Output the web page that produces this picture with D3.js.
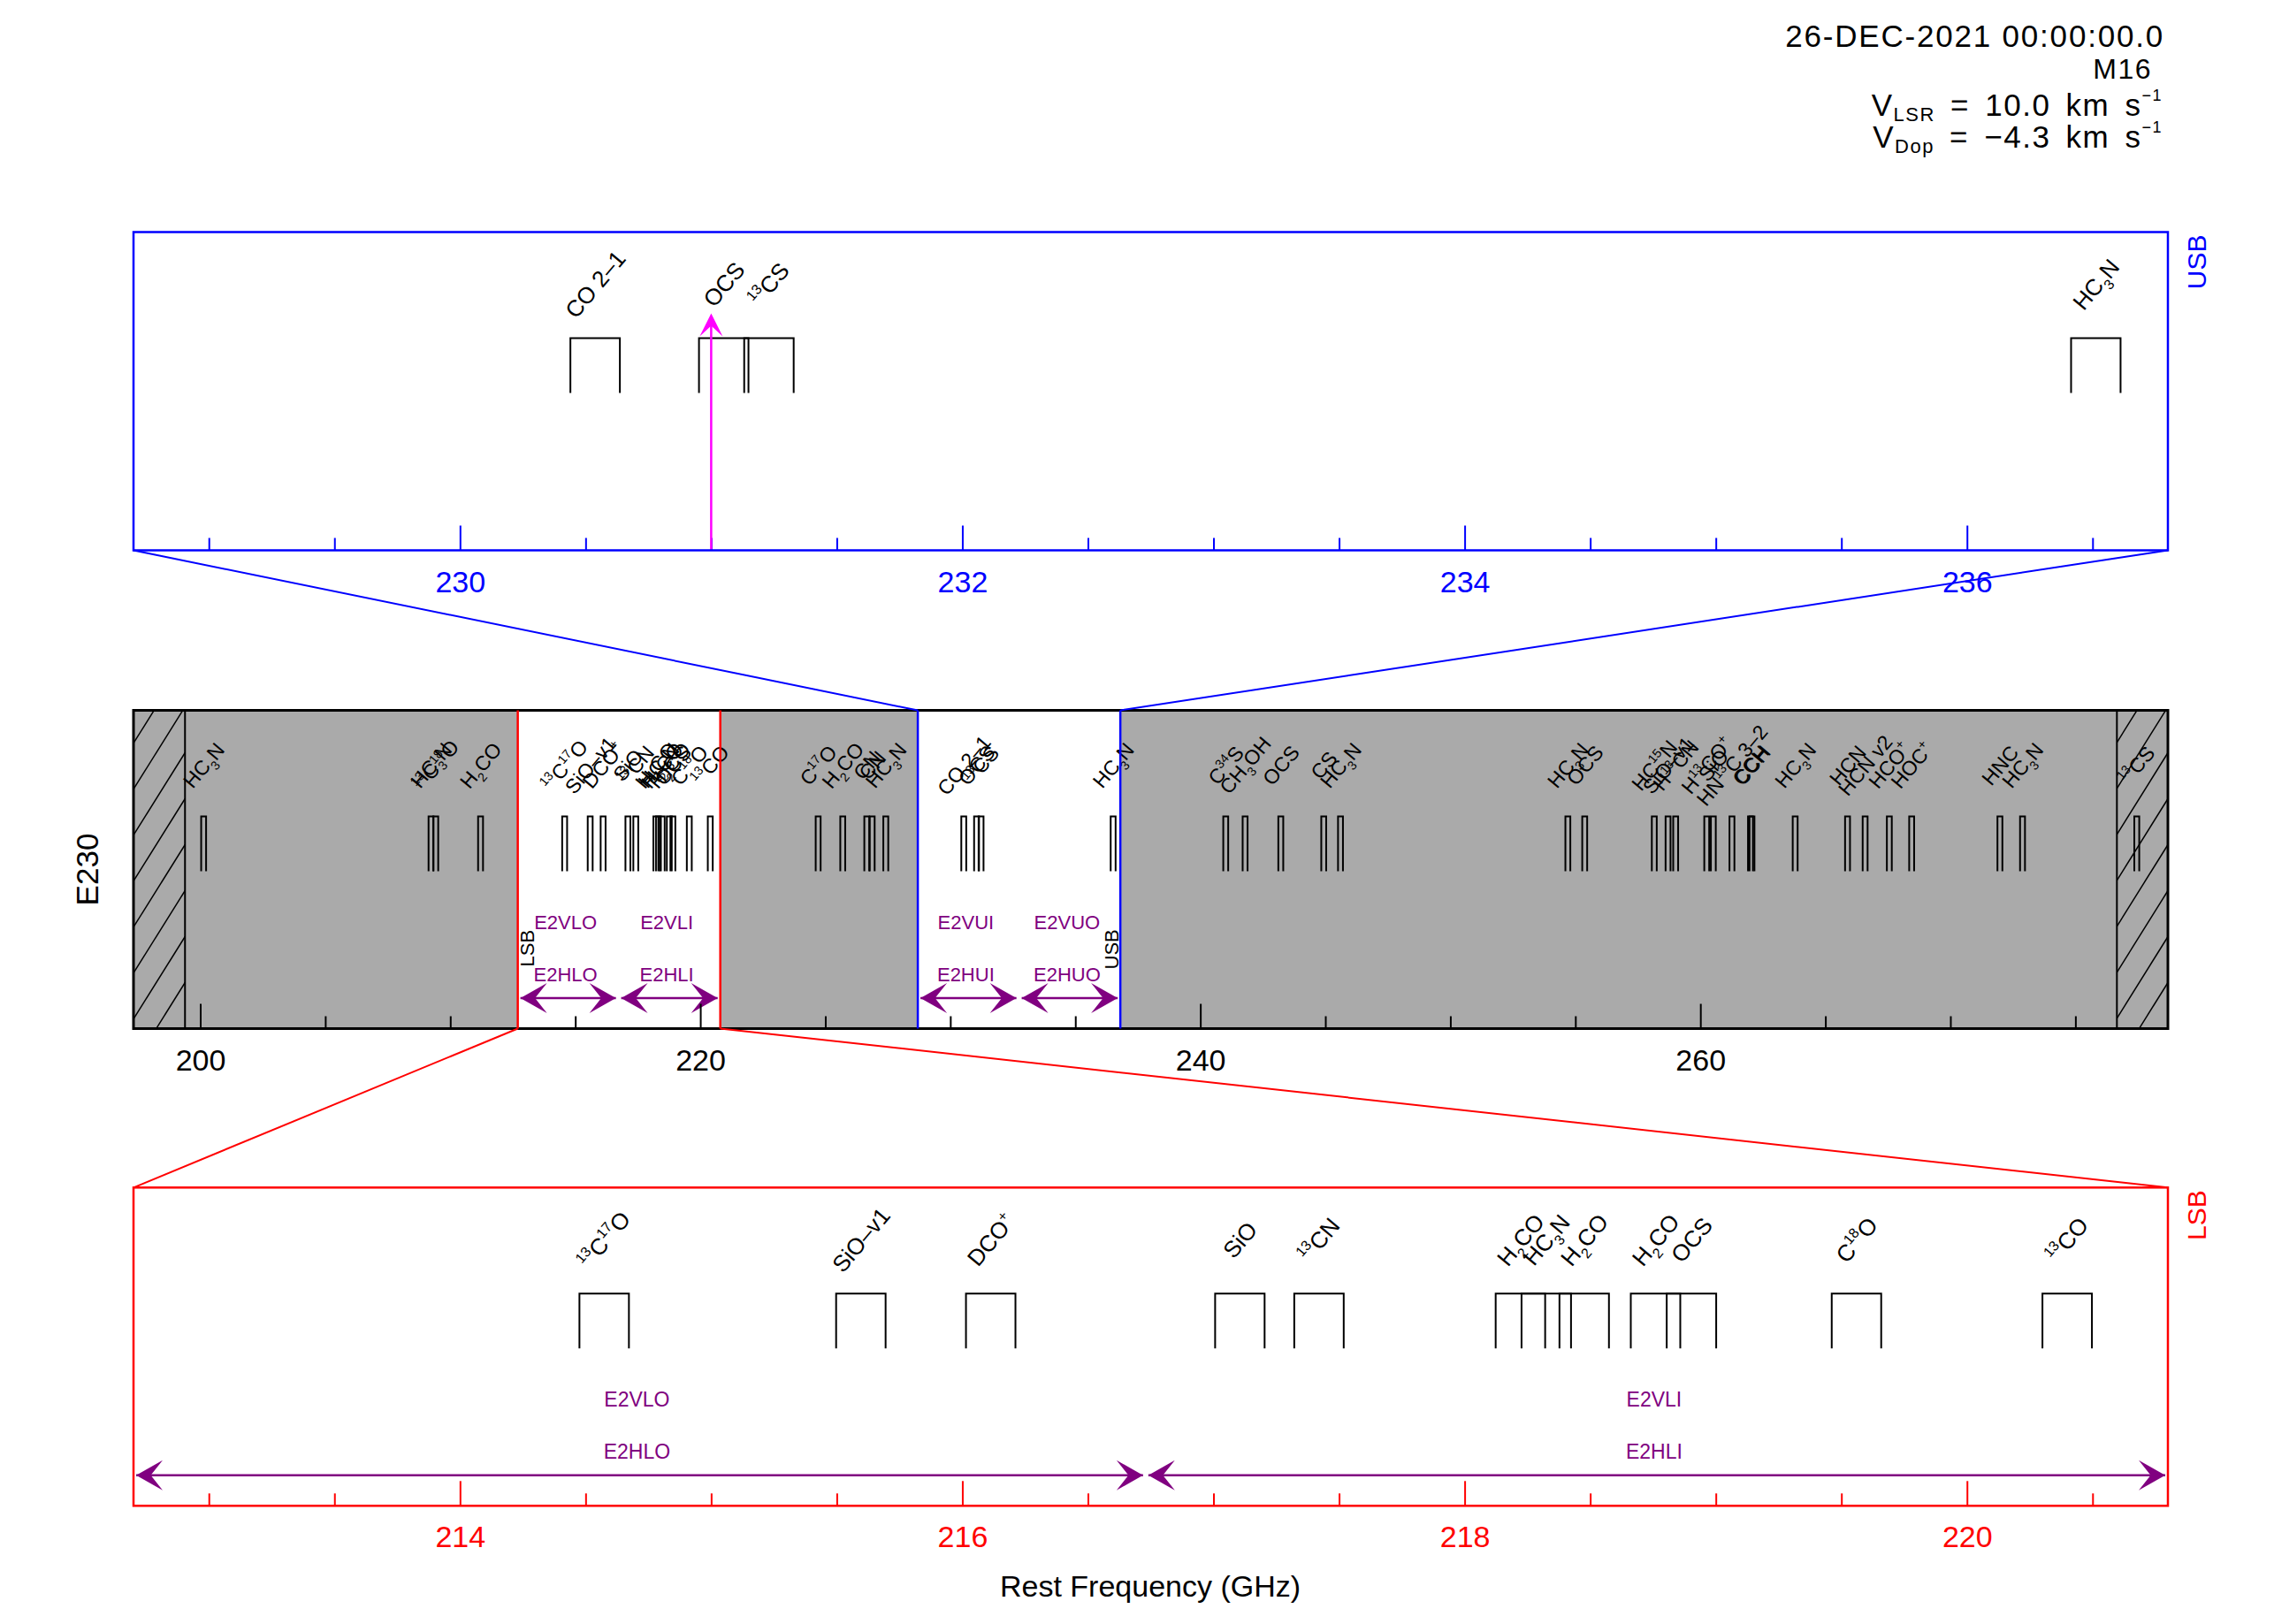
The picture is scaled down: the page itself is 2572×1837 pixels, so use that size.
<!DOCTYPE html>
<html><head><meta charset="utf-8">
<script src="https://cdn.jsdelivr.net/npm/d3@7"></script>
<style>html,body{margin:0;padding:0;background:#fff;} svg{display:block;}</style>
</head><body>
<script>
// ---------------- data ----------------
const lineFreqs = [200.135, 209.230, 209.419, 211.211, 214.574, 215.596, 216.113, 217.105, 217.420,
  218.222, 218.325, 218.476, 218.760, 218.903, 219.560, 220.399, 224.714, 225.698, 226.659, 226.875,
  227.419, 230.538, 231.050, 231.230, 236.513, 241.016, 241.791, 243.218, 244.936, 245.606, 254.700,
  255.374, 258.157, 258.707, 259.012, 260.255, 260.518, 261.263, 262.004, 262.064, 263.792, 265.886,
  266.590, 267.558, 268.451, 271.981, 272.885, 277.455];
const lineLabels = ["HC_{3}N", "HC_{3}N", "^{13}C^{18}O", "H_{2}CO", "^{13}C^{17}O", "SiO\u2013v1", "DCO^{+}", "SiO", "^{13}CN",
  "H_{2}CO", "HC_{3}N", "H_{2}CO", "H_{2}CO", "OCS", "C^{18}O", "^{13}CO", "C^{17}O", "H_{2}CO", "CN", "CN",
  "HC_{3}N", "CO 2\u20131", "OCS", "^{13}CS", "HC_{3}N", "C^{34}S", "CH_{3}OH", "OCS", "CS", "HC_{3}N", "HC_{3}N",
  "OCS", "HC^{15}N", "SiO\u2013v1", "H^{13}CN", "H^{13}CO^{+}", "SiO", "HN^{13}C 3\u20132", "CCH", "CCH", "HC_{3}N", "HCN",
  "HCN v2", "HCO^{+}", "HOC^{+}", "HNC", "HC_{3}N", "^{13}CS"];
const lineWidthGHz = 0.197;

const usbBand = [228.70, 236.80];
const lsbBand = [212.70, 220.80];
const overviewRange = [197.33, 278.70];
const hatchBands = [[197.33, 199.39], [276.66, 278.70]];
const tuningFreq = 231.0;

const windowVNames = ["E2VLO", "E2VLI", "E2VUI", "E2VUO"];
const windowHNames = ["E2HLO", "E2HLI", "E2HUI", "E2HUO"];
const windowRanges = [[212.70, 216.73], [216.73, 220.80], [228.70, 232.75], [232.75, 236.80]];

const topMajorTicks = [230, 232, 234, 236];
const topMinorTicks = [229, 229.5, 230.5, 231, 231.5, 232.5, 233, 233.5, 234.5, 235, 235.5, 236.5];
const midMajorTicks = [200, 220, 240, 260];
const midMinorTicks = [205, 210, 215, 225, 230, 235, 245, 250, 255, 265, 270, 275];
const botMajorTicks = [214, 216, 218, 220];
const botMinorTicks = [213, 213.5, 214.5, 215, 215.5, 216.5, 217, 217.5, 218.5, 219, 219.5, 220.5];

const headerDate = "26-DEC-2021 00:00:00.0";
const sourceName = "M16";
const vlsrText = "10.0";
const vdopText = "\u22124.3";

// ---------------- layout ----------------
const W = 2572, H = 1837;
const PX0 = 151, PX1 = 2452, PH = 360;
const topTop = 262.5, midTop = 803.5, botTop = 1343.3;
const FONT = '"Liberation Sans", Arial, sans-serif';
const BLUE = "#0000ff", RED = "#ff0000", PURPLE = "#800080", MAG = "#ff00ff", GRAY = "#aaaaaa";

const svg = d3.select("body").append("svg").attr("width", W).attr("height", H)
  .attr("font-family", FONT);
svg.append("rect").attr("width", W).attr("height", H).attr("fill", "#fff");

const xTop = d3.scaleLinear().domain(usbBand).range([PX0, PX1]);
const xMid = d3.scaleLinear().domain(overviewRange).range([PX0, PX1]);
const xBot = d3.scaleLinear().domain(lsbBand).range([PX0, PX1]);

function rich(sel, markup, fs) {
  const parts = markup.split(/(\^\{[^}]*\}|_\{[^}]*\})/);
  let cur = 0;
  parts.forEach(p => {
    let type = "n", t = p;
    if (p.startsWith("^{")) { type = "sup"; t = p.slice(2, -1); }
    else if (p.startsWith("_{")) { type = "sub"; t = p.slice(2, -1); }
    if (!t) return;
    const target = type === "sup" ? -0.42 * fs : type === "sub" ? 0.3 * fs : 0;
    sel.append("tspan").attr("dy", (target - cur).toFixed(2))
      .attr("font-size", type === "n" ? fs : fs * 0.62).text(t);
    cur = target;
  });
}

function drawLines(g, x, top, fs, labelDy) {
  const dom = x.domain();
  const data = lineFreqs.map((f, i) => ({ f, label: lineLabels[i] }))
    .filter(d => d.f >= dom[0] && d.f <= dom[1]);
  g.selectAll(null).data(data).enter().append("path")
    .attr("d", d => `M${x(d.f - lineWidthGHz / 2)},${top + 182}V${top + 120}H${x(d.f + lineWidthGHz / 2)}V${top + 182}`)
    .attr("fill", "none").attr("stroke", "#000").attr("stroke-width", 2);
  data.forEach(d => {
    const t = g.append("g").attr("transform", `translate(${x(d.f)},${top + labelDy}) rotate(-50)`)
      .append("text").attr("text-anchor", "middle").attr("y", 0.36 * fs)
      .attr("font-size", fs).attr("fill", "#000");
    rich(t, d.label, fs);
  });
}

function drawAxis(g, x, top, color, majors, minors) {
  const gy = top + PH;
  const a1 = g.append("g").attr("transform", `translate(0,${gy})`)
    .call(d3.axisBottom(x).tickValues(minors).tickSizeInner(-14).tickSizeOuter(0).tickFormat(""));
  const a2 = g.append("g").attr("transform", `translate(0,${gy})`)
    .call(d3.axisBottom(x).tickValues(majors).tickSizeInner(-28).tickSizeOuter(0).tickPadding(23).tickFormat(d3.format("d")));
  [a1, a2].forEach(a => {
    a.select(".domain").remove();
    a.attr("font-family", FONT).attr("font-size", 34);
    a.selectAll("line").attr("stroke", color).attr("stroke-width", 2);
    a.selectAll("text").attr("fill", color);
  });
}

function arrowHead(g, xt, y, dir, color, L, Wd) {
  const b = xt - dir * L, n = xt - dir * 0.55 * L;
  g.append("path").attr("d", `M${xt},${y}L${b},${y - Wd}L${n},${y}L${b},${y + Wd}Z`).attr("fill", color);
}
function dblArrow(g, xa, xb, y, color) {
  g.append("line").attr("x1", xa).attr("x2", xb).attr("y1", y).attr("y2", y)
    .attr("stroke", color).attr("stroke-width", 2.5);
  arrowHead(g, xa, y, -1, color, 30, 17);
  arrowHead(g, xb, y, 1, color, 30, 17);
}

function windows(g, x, top, idx, fs) {
  idx.forEach(i => {
    const r = windowRanges[i];
    const cx = x((r[0] + r[1]) / 2) - 3;
    g.append("text").attr("x", cx).attr("y", top + 247.5).attr("text-anchor", "middle")
      .attr("font-size", fs).attr("fill", PURPLE).text(windowVNames[i]);
    g.append("text").attr("x", cx).attr("y", top + 306.5).attr("text-anchor", "middle")
      .attr("font-size", fs).attr("fill", PURPLE).text(windowHNames[i]);
    dblArrow(g, x(r[0]) + 3, x(r[1]) - 3, top + 325.5, PURPLE);
  });
}

// ---------------- header ----------------
svg.append("text").attr("x", 2448).attr("y", 53).attr("text-anchor", "end").attr("font-size", 35)
  .attr("letter-spacing", 1.8).text(headerDate);
svg.append("text").attr("x", 2434).attr("y", 89).attr("text-anchor", "end").attr("font-size", 32)
  .attr("letter-spacing", 1.5).text(sourceName);
function velLine(y, sub, val) {
  const t = svg.append("text").attr("x", 2446).attr("y", y).attr("text-anchor", "end").attr("font-size", 35)
    .attr("letter-spacing", 1.5).attr("word-spacing", 6);
  t.append("tspan").text("V");
  t.append("tspan").attr("font-size", 22).attr("dy", 6).text(sub);
  t.append("tspan").attr("dy", -6).text(" = " + val + " km s");
  t.append("tspan").attr("font-size", 18).attr("dy", -17).text("\u22121");
}
velLine(131, "LSR", vlsrText);
velLine(166.7, "Dop", vdopText);

// ---------------- top (USB) panel ----------------
const gTop = svg.append("g");
drawAxis(gTop, xTop, topTop, BLUE, topMajorTicks, topMinorTicks);
drawLines(gTop, xTop, topTop, 26, 59);
{
  const xa = xTop(tuningFreq);
  gTop.append("line").attr("x1", xa).attr("x2", xa).attr("y1", topTop + PH).attr("y2", topTop + 96)
    .attr("stroke", MAG).attr("stroke-width", 2.5);
  gTop.append("path").attr("d", `M${xa},${topTop + 92}L${xa - 13},${topTop + 118}L${xa},${topTop + 106}L${xa + 13},${topTop + 118}Z`)
    .attr("fill", MAG);
}
gTop.append("rect").attr("x", PX0).attr("y", topTop).attr("width", PX1 - PX0).attr("height", PH)
  .attr("fill", "none").attr("stroke", BLUE).attr("stroke-width", 2.5);
gTop.append("text").attr("transform", `translate(2495,${topTop + 3}) rotate(-90)`).attr("text-anchor", "end")
  .attr("font-size", 30).attr("fill", BLUE).text("USB");

// ---------------- middle (overview) panel ----------------
const gMid = svg.append("g");
gMid.append("rect").attr("x", PX0).attr("y", midTop).attr("width", PX1 - PX0).attr("height", PH).attr("fill", GRAY);
[lsbBand, usbBand].forEach(b => {
  gMid.append("rect").attr("x", xMid(b[0])).attr("y", midTop).attr("width", xMid(b[1]) - xMid(b[0]))
    .attr("height", PH).attr("fill", "#fff");
});
const defs = svg.append("defs");
hatchBands.forEach((b, i) => {
  const xa = xMid(b[0]), xb = xMid(b[1]);
  defs.append("clipPath").attr("id", "hc" + i).append("rect")
    .attr("x", xa).attr("y", midTop).attr("width", xb - xa).attr("height", PH);
  const hg = gMid.append("g").attr("clip-path", `url(#hc${i})`);
  const rise = (xb - xa) * 1.6;
  d3.range(-2, 12).forEach(k => {
    const y0 = midTop + PH + rise - k * 52;
    hg.append("line").attr("x1", xa).attr("y1", y0).attr("x2", xb).attr("y2", y0 - rise)
      .attr("stroke", "#000").attr("stroke-width", 1.5);
  });
  const xe = i === 0 ? xb : xa;
  gMid.append("line").attr("x1", xe).attr("x2", xe).attr("y1", midTop).attr("y2", midTop + PH)
    .attr("stroke", "#000").attr("stroke-width", 2);
});
drawLines(gMid, xMid, midTop, 23, 62);
windows(gMid, xMid, midTop, [0, 1, 2, 3], 22);
drawAxis(gMid, xMid, midTop, "#000", midMajorTicks, midMinorTicks);
gMid.append("rect").attr("x", PX0).attr("y", midTop).attr("width", PX1 - PX0).attr("height", PH)
  .attr("fill", "none").attr("stroke", "#000").attr("stroke-width", 3);
[[lsbBand, RED], [usbBand, BLUE]].forEach(([b, c]) => {
  b.forEach(f => gMid.append("line").attr("x1", xMid(f)).attr("x2", xMid(f))
    .attr("y1", midTop).attr("y2", midTop + PH).attr("stroke", c).attr("stroke-width", 2.5));
});
gMid.append("text").attr("transform", `translate(${xMid(lsbBand[0]) + 18},${midTop + 290}) rotate(-90)`)
  .attr("font-size", 22).attr("fill", "#000").text("LSB");
gMid.append("text").attr("transform", `translate(${xMid(usbBand[1]) - 2},${midTop + 293}) rotate(-90)`)
  .attr("font-size", 22).attr("fill", "#000").text("USB");
svg.append("text").attr("transform", `translate(111,${midTop + PH / 2}) rotate(-90)`).attr("text-anchor", "middle")
  .attr("font-size", 35).text("E230");

// ---------------- bottom (LSB) panel ----------------
const gBot = svg.append("g");
drawAxis(gBot, xBot, botTop, RED, botMajorTicks, botMinorTicks);
drawLines(gBot, xBot, botTop, 26, 59);
windows(gBot, xBot, botTop, [0, 1], 23);
gBot.append("rect").attr("x", PX0).attr("y", botTop).attr("width", PX1 - PX0).attr("height", PH)
  .attr("fill", "none").attr("stroke", RED).attr("stroke-width", 2.5);
gBot.append("text").attr("transform", `translate(2495,${botTop + 3}) rotate(-90)`).attr("text-anchor", "end")
  .attr("font-size", 30).attr("fill", RED).text("LSB");
svg.append("text").attr("x", 1301).attr("y", 1806).attr("text-anchor", "middle").attr("font-size", 34)
  .text("Rest Frequency (GHz)");

// ---------------- zoom connectors ----------------
const conn = svg.append("g").attr("stroke-width", 2);
conn.append("line").attr("x1", PX0).attr("y1", topTop + PH).attr("x2", xMid(usbBand[0])).attr("y2", midTop).attr("stroke", BLUE);
conn.append("line").attr("x1", PX1).attr("y1", topTop + PH).attr("x2", xMid(usbBand[1])).attr("y2", midTop).attr("stroke", BLUE);
conn.append("line").attr("x1", xMid(lsbBand[0])).attr("y1", midTop + PH).attr("x2", PX0).attr("y2", botTop).attr("stroke", RED);
conn.append("line").attr("x1", xMid(lsbBand[1])).attr("y1", midTop + PH).attr("x2", PX1).attr("y2", botTop).attr("stroke", RED);
</script>
</body></html>
